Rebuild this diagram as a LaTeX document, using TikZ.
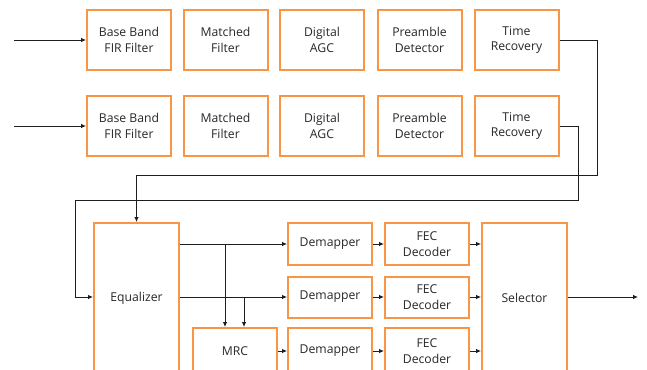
\documentclass[tikz,border=0pt]{standalone}
\usepackage{fontspec}
\setmainfont{Open Sans}
\usetikzlibrary{arrows.meta}
\definecolor{boxorange}{RGB}{247,150,70}
\definecolor{wirecol}{RGB}{30,30,30}
\definecolor{textcol}{RGB}{40,40,40}
\begin{document}
\begin{tikzpicture}[x=1pt,y=-1pt,
  blk/.style={draw=boxorange, line width=2pt, fill=white, align=center,
    text=textcol, font=\fontsize{12.2}{15.5}\selectfont, inner sep=0pt,
    minimum width=84pt},
  link/.style={draw=wirecol, line width=0.8pt, -{Latex[length=5pt,width=4.5pt]}},
  wire/.style={draw=wirecol, line width=0.8pt}]
\useasboundingbox (0,0) rectangle (647,369);
\clip (0,0) rectangle (647,369);

% receive chain, branch 1
\node[blk, minimum height=60pt] (bb1) at (129,40)   {Base Band\\FIR Filter};
\node[blk, minimum height=60pt] (mf1) at (225.5,40) {Matched\\Filter};
\node[blk, minimum height=60pt] (ag1) at (322,40)   {Digital\\AGC};
\node[blk, minimum height=60pt] (pd1) at (419.5,40) {Preamble\\Detector};
\node[blk, minimum height=60pt] (tr1) at (516.5,40) {Time\\Recovery};

% receive chain, branch 2
\node[blk, minimum height=60pt] (bb2) at (129,126)   {Base Band\\FIR Filter};
\node[blk, minimum height=60pt] (mf2) at (225.5,126) {Matched\\Filter};
\node[blk, minimum height=60pt] (ag2) at (322,126)   {Digital\\AGC};
\node[blk, minimum height=60pt] (pd2) at (419.5,126) {Preamble\\Detector};
\node[blk, minimum height=60pt] (tr2) at (516.5,126) {Time\\Recovery};

% combining and decoding
\node[blk, minimum width=85pt, minimum height=150pt] (eq) at (136.5,298) {Equalizer};
\node[blk, minimum height=42pt] (dm1) at (330,244) {Demapper};
\node[blk, minimum height=41pt] (dm2) at (330,297) {Demapper};
\node[blk, minimum height=46pt] (dm3) at (330,351) {Demapper};
\node[blk, minimum height=42pt] (fe1) at (427,244) {FEC\\Decoder};
\node[blk, minimum height=41pt] (fe2) at (427,297) {FEC\\Decoder};
\node[blk, minimum height=46pt] (fe3) at (427,351) {FEC\\Decoder};
\node[blk, minimum height=46pt] (mrc) at (235,351) {MRC};
\node[blk, minimum width=85pt, minimum height=150pt] (sel) at (524.5,298) {Selector};

% free ends and bend points
\coordinate (in1) at (14,40);
\coordinate (in2) at (14,126);
\coordinate (out) at (638,297);
\coordinate (r1) at (597,175);
\coordinate (r2) at (578,200);
\coordinate (l2) at (75,297);
\coordinate (b1) at (225,244);
\coordinate (b2) at (244,297);

% inputs
\draw[link] (in1) -- (bb1.west);
\draw[link] (in2) -- (bb2.west);

% timing outputs to the equalizer
\draw[link] (tr1.east) -| (r1) -| (eq.north);
\draw[link] (tr2.east) -| (r2) -| (l2) -- (eq.west |- l2);

% equalizer outputs
\draw[link] (eq.east |- dm1) -- (dm1.west);
\draw[link] (eq.east |- dm2) -- (dm2.west);
\draw[link] (b1) -- (b1 |- mrc.north);
\draw[link] (b2) -- (b2 |- mrc.north);
\draw[link] (mrc.east) -- (dm3.west);

% demapping, decoding, selection
\draw[link] (dm1.east) -- (fe1.west);
\draw[link] (dm2.east) -- (fe2.west);
\draw[link] (dm3.east) -- (fe3.west);
\draw[link] (fe1.east) -- (sel.west |- fe1);
\draw[link] (fe2.east) -- (sel.west |- fe2);
\draw[link] (fe3.east) -- (sel.west |- fe3);
\draw[link] (sel.east |- out) -- (out);
\end{tikzpicture}
\end{document}
